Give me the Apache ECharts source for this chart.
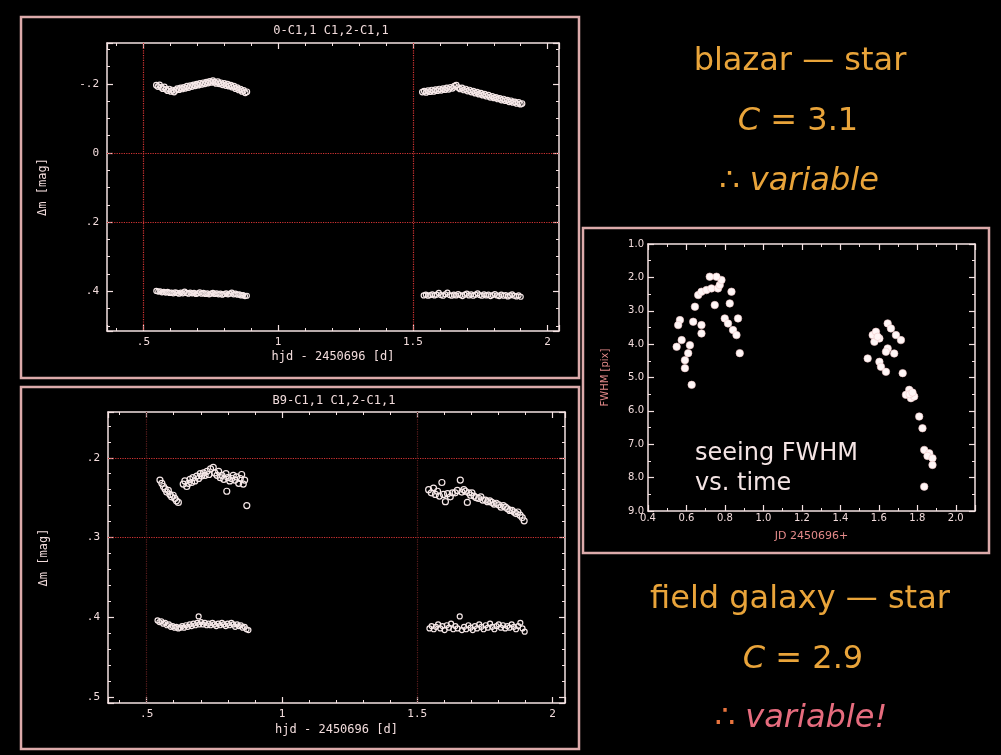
<!DOCTYPE html>
<html><head><meta charset="utf-8">
<script src="https://cdn.jsdelivr.net/npm/echarts@6/dist/echarts.min.js"></script>
<style>html,body{margin:0;padding:0;background:#000;}#c{width:1001px;height:755px;}</style>
</head><body><div id="c"></div>
<script>
// ---------------- DATA ----------------
// Panel 1: "0-C1,1  C1,2-C1,1"  (blazar - star, and star - star)
const p1BlazarA = [[0.548,-0.196],[0.554,-0.192],[0.560,-0.197],[0.566,-0.190],[0.572,-0.186],[0.578,-0.191],[0.584,-0.184],[0.590,-0.180],[0.596,-0.185],[0.602,-0.178],[0.608,-0.182],[0.614,-0.176],[0.620,-0.181],[0.626,-0.186],[0.632,-0.183],[0.638,-0.188],[0.644,-0.185],[0.650,-0.190],[0.656,-0.187],[0.662,-0.193],[0.668,-0.189],[0.674,-0.195],[0.680,-0.192],[0.686,-0.197],[0.692,-0.194],[0.698,-0.199],[0.704,-0.196],[0.710,-0.201],[0.716,-0.198],[0.722,-0.203],[0.728,-0.200],[0.734,-0.205],[0.740,-0.202],[0.746,-0.207],[0.752,-0.204],[0.758,-0.209],[0.764,-0.205],[0.770,-0.201],[0.776,-0.206],[0.782,-0.200],[0.788,-0.203],[0.794,-0.197],[0.800,-0.201],[0.806,-0.195],[0.812,-0.199],[0.818,-0.193],[0.824,-0.196],[0.830,-0.190],[0.836,-0.193],[0.842,-0.186],[0.848,-0.189],[0.854,-0.182],[0.860,-0.185],[0.866,-0.178],[0.872,-0.181],[0.878,-0.174],[0.884,-0.177]];
const p1BlazarB = [[1.535,-0.176],[1.542,-0.179],[1.549,-0.175],[1.556,-0.180],[1.563,-0.177],[1.570,-0.182],[1.577,-0.178],[1.584,-0.183],[1.591,-0.180],[1.598,-0.185],[1.605,-0.181],[1.612,-0.186],[1.619,-0.183],[1.626,-0.188],[1.633,-0.184],[1.640,-0.190],[1.647,-0.187],[1.654,-0.193],[1.661,-0.196],[1.668,-0.189],[1.675,-0.185],[1.682,-0.188],[1.689,-0.182],[1.696,-0.185],[1.703,-0.179],[1.710,-0.182],[1.717,-0.176],[1.724,-0.179],[1.731,-0.173],[1.738,-0.176],[1.745,-0.170],[1.752,-0.173],[1.759,-0.167],[1.766,-0.170],[1.773,-0.164],[1.780,-0.167],[1.787,-0.161],[1.794,-0.164],[1.801,-0.159],[1.808,-0.161],[1.815,-0.156],[1.822,-0.158],[1.829,-0.153],[1.836,-0.156],[1.843,-0.151],[1.850,-0.153],[1.857,-0.148],[1.864,-0.151],[1.871,-0.146],[1.878,-0.148],[1.885,-0.143],[1.892,-0.146],[1.899,-0.141],[1.905,-0.143]];
const p1CheckA = [[0.548,0.399],[0.555,0.401],[0.562,0.400],[0.569,0.403],[0.576,0.402],[0.583,0.404],[0.590,0.402],[0.597,0.405],[0.604,0.404],[0.611,0.406],[0.618,0.403],[0.625,0.405],[0.632,0.407],[0.639,0.404],[0.646,0.406],[0.653,0.401],[0.660,0.405],[0.667,0.407],[0.674,0.404],[0.681,0.406],[0.688,0.405],[0.695,0.408],[0.702,0.406],[0.709,0.403],[0.716,0.407],[0.723,0.405],[0.730,0.408],[0.737,0.406],[0.744,0.409],[0.751,0.407],[0.758,0.405],[0.765,0.408],[0.772,0.406],[0.779,0.409],[0.786,0.407],[0.793,0.410],[0.800,0.408],[0.807,0.406],[0.814,0.409],[0.821,0.407],[0.828,0.404],[0.835,0.409],[0.842,0.407],[0.849,0.410],[0.856,0.409],[0.863,0.412],[0.870,0.411],[0.877,0.414],[0.884,0.413]];
const p1CheckB = [[1.540,0.412],[1.548,0.410],[1.556,0.413],[1.564,0.411],[1.572,0.409],[1.580,0.412],[1.588,0.410],[1.596,0.405],[1.604,0.411],[1.612,0.413],[1.620,0.409],[1.628,0.404],[1.636,0.411],[1.644,0.413],[1.652,0.410],[1.660,0.412],[1.668,0.408],[1.676,0.411],[1.684,0.414],[1.692,0.410],[1.700,0.407],[1.708,0.412],[1.716,0.409],[1.724,0.413],[1.732,0.410],[1.740,0.406],[1.748,0.411],[1.756,0.413],[1.764,0.409],[1.772,0.412],[1.780,0.410],[1.788,0.414],[1.796,0.411],[1.804,0.408],[1.812,0.412],[1.820,0.414],[1.828,0.410],[1.836,0.413],[1.844,0.411],[1.852,0.415],[1.860,0.412],[1.868,0.409],[1.876,0.413],[1.884,0.415],[1.892,0.412],[1.900,0.416]];

// Panel 2: "B9-C1,1  C1,2-C1,1"  (field galaxy - star, and star - star)
const p2GalaxyA = [[0.549,0.228],[0.556,0.232],[0.562,0.236],[0.568,0.239],[0.574,0.243],[0.580,0.241],[0.586,0.246],[0.592,0.249],[0.598,0.247],[0.604,0.251],[0.610,0.254],[0.617,0.256],[0.635,0.233],[0.641,0.229],[0.648,0.236],[0.654,0.232],[0.660,0.227],[0.666,0.231],[0.671,0.225],[0.678,0.229],[0.685,0.223],[0.692,0.226],[0.698,0.220],[0.703,0.223],[0.710,0.219],[0.716,0.222],[0.723,0.217],[0.730,0.221],[0.736,0.214],[0.746,0.212],[0.752,0.219],[0.760,0.222],[0.766,0.217],[0.772,0.225],[0.778,0.222],[0.785,0.227],[0.793,0.220],[0.800,0.225],[0.807,0.229],[0.814,0.226],[0.820,0.222],[0.826,0.228],[0.832,0.224],[0.840,0.232],[0.846,0.226],[0.851,0.221],[0.857,0.233],[0.862,0.228],[0.796,0.242],[0.870,0.260]];
const p2GalaxyB = [[1.542,0.240],[1.552,0.244],[1.560,0.238],[1.567,0.246],[1.575,0.242],[1.582,0.248],[1.591,0.231],[1.597,0.246],[1.604,0.255],[1.612,0.245],[1.622,0.249],[1.630,0.244],[1.640,0.244],[1.648,0.241],[1.659,0.228],[1.665,0.243],[1.672,0.240],[1.678,0.242],[1.685,0.256],[1.690,0.244],[1.697,0.247],[1.702,0.244],[1.710,0.248],[1.718,0.250],[1.727,0.251],[1.735,0.249],[1.742,0.253],[1.752,0.253],[1.760,0.255],[1.768,0.254],[1.776,0.256],[1.784,0.258],[1.792,0.257],[1.801,0.259],[1.810,0.262],[1.818,0.260],[1.826,0.262],[1.834,0.264],[1.842,0.266],[1.850,0.266],[1.858,0.268],[1.865,0.270],[1.872,0.268],[1.880,0.272],[1.888,0.275],[1.895,0.279]];
const p2CheckA = [[0.540,0.404],[0.547,0.406],[0.554,0.405],[0.561,0.408],[0.568,0.407],[0.575,0.410],[0.582,0.409],[0.589,0.412],[0.596,0.411],[0.603,0.413],[0.610,0.412],[0.617,0.414],[0.624,0.413],[0.631,0.411],[0.638,0.413],[0.645,0.410],[0.652,0.412],[0.659,0.409],[0.666,0.411],[0.673,0.408],[0.680,0.410],[0.692,0.399],[0.687,0.407],[0.694,0.409],[0.701,0.406],[0.708,0.409],[0.715,0.407],[0.722,0.410],[0.729,0.408],[0.736,0.410],[0.743,0.407],[0.750,0.409],[0.757,0.411],[0.764,0.408],[0.771,0.410],[0.778,0.407],[0.785,0.409],[0.792,0.411],[0.799,0.408],[0.806,0.410],[0.813,0.407],[0.820,0.409],[0.827,0.412],[0.834,0.409],[0.841,0.411],[0.848,0.410],[0.855,0.413],[0.862,0.412],[0.869,0.415],[0.876,0.416]];
const p2CheckB = [[1.545,0.414],[1.553,0.411],[1.561,0.415],[1.569,0.412],[1.577,0.409],[1.585,0.414],[1.593,0.411],[1.601,0.416],[1.609,0.410],[1.617,0.413],[1.625,0.408],[1.633,0.415],[1.641,0.411],[1.649,0.414],[1.657,0.399],[1.665,0.416],[1.673,0.412],[1.681,0.415],[1.689,0.410],[1.697,0.413],[1.705,0.416],[1.713,0.411],[1.721,0.414],[1.729,0.409],[1.737,0.412],[1.745,0.415],[1.753,0.410],[1.761,0.413],[1.769,0.408],[1.777,0.412],[1.785,0.415],[1.793,0.411],[1.801,0.409],[1.809,0.413],[1.817,0.410],[1.825,0.414],[1.833,0.411],[1.841,0.413],[1.849,0.409],[1.857,0.412],[1.865,0.415],[1.873,0.411],[1.881,0.407],[1.889,0.414],[1.897,0.418]];

// Panel 3: seeing FWHM [pix] vs JD 2450696+
const fwhmNight1 = [[0.566,3.28],[0.557,3.43],[0.549,4.08],[0.575,3.88],[0.592,4.48],[0.592,4.72],[0.627,5.22],[0.618,4.03],[0.609,4.27],[0.635,3.33],[0.678,3.43],[0.678,3.68],[0.644,2.88],[0.661,2.53],[0.678,2.43],[0.704,2.38],[0.730,2.33],[0.764,2.33],[0.773,2.23],[0.782,2.08],[0.756,1.98],[0.721,1.98],[0.747,2.83],[0.799,3.23],[0.816,3.38],[0.842,3.58],[0.860,3.73],[0.868,3.23],[0.834,2.43],[0.825,2.78],[0.877,4.27]];
const fwhmNight2 = [[1.542,4.43],[1.568,3.73],[1.585,3.63],[1.603,3.83],[1.577,3.93],[1.594,3.78],[1.646,3.38],[1.663,3.53],[1.689,3.73],[1.715,3.88],[1.646,4.13],[1.680,4.28],[1.637,4.23],[1.603,4.53],[1.611,4.68],[1.637,4.83],[1.724,4.87],[1.758,5.37],[1.741,5.52],[1.767,5.62],[1.784,5.57],[1.760,5.50],[1.775,5.45],[1.810,6.17],[1.827,6.52],[1.836,7.17],[1.862,7.27],[1.853,7.35],[1.879,7.42],[1.879,7.62],[1.836,8.27]];

// reference (dotted) lines
const p1GridX = [0.5, 1.5];
const p1GridY = [0, 0.2];
const p2GridY = [0.2, 0.3];
const p2GridX = [0.5, 1.5];

// ---------------- STYLE ----------------
const AX = '#f4e2e2';
const LBL = '#f2dcdc';
const FRAME = '#dcaaaa';
const ORANGE = '#e9a43a';
const PINK = '#e66c7e';
const MONO = '"DejaVu Sans Mono", monospace';
const SANS = '"DejaVu Sans", sans-serif';

function pgFmt(step) {
  return function (v) {
    const k = v / step;
    if (Math.abs(k - Math.round(k)) > 1e-6) return '';
    let s = String(+v.toFixed(3));
    return s.replace(/^0\./, '.').replace(/^-0\./, '-.');
  };
}
function fixFmt(step) {
  return function (v) {
    const k = v / step;
    if (Math.abs(k - Math.round(k)) > 1e-6) return '';
    return v.toFixed(1);
  };
}
function axis(o) {
  const a = {
    type: 'value', gridIndex: o.grid, position: o.pos, min: o.min, max: o.max,
    minInterval: o.step, maxInterval: o.step, inverse: !!o.inverse, scale: true,
    axisLine: { show: true, onZero: false, lineStyle: { color: AX, width: 1.5 } },
    axisTick: { show: true, inside: true, length: 6, lineStyle: { color: AX, width: 1.2 } },
    minorTick: { show: true, splitNumber: o.minor, length: 3, lineStyle: { color: AX, width: 1 } },
    splitLine: { show: false }, minorSplitLine: { show: false },
    axisLabel: o.label ? {
      show: true, margin: o.margin, color: LBL, fontFamily: o.font || MONO, fontSize: o.fs || 11,
      formatter: o.fmt, showMinLabel: true, showMaxLabel: true, hideOverlap: false
    } : { show: false }
  };
  if (o.name) {
    a.name = o.name; a.nameLocation = 'middle'; a.nameGap = o.nameGap;
    a.nameTextStyle = { color: o.nameColor || LBL, fontFamily: o.font || MONO, fontSize: o.nfs || 12 };
  }
  return a;
}
function scatter(data, xi, yi, size, filled) {
  return {
    type: 'scatter', xAxisIndex: xi, yAxisIndex: yi, data: data, symbol: 'circle', symbolSize: size,
    itemStyle: filled ? { color: '#fff6f6', borderColor: '#f0c8c8', borderWidth: 0.6, opacity: 1 }
                      : { color: 'rgba(0,0,0,0)', borderColor: '#f6e8e8', borderWidth: 1.2, opacity: 1 },
    silent: true
  };
}
function gridLines(xs, ys, color) {
  return {
    silent: true, symbol: ['none', 'none'], label: { show: false }, animation: false,
    lineStyle: { color: color, type: 'dotted', width: 1.2 },
    data: xs.map(v => ({ xAxis: v })).concat(ys.map(v => ({ yAxis: v })))
  };
}

const chart = echarts.init(document.getElementById('c'), null, { renderer: 'canvas' });

const s1 = scatter(p1BlazarA, 0, 0, 5.5, false);
s1.markLine = gridLines(p1GridX, p1GridY, '#d23434');
const s5 = scatter(p2GalaxyA, 2, 2, 6, false);
s5.markLine = gridLines([], p2GridY, '#d23434');
const s6 = scatter(p2GalaxyB, 2, 2, 6, false);
s6.markLine = gridLines(p2GridX, [], '#5a1c1c');

const option = {
  backgroundColor: '#000',
  animation: false,
  grid: [
    { left: 107, top: 43, width: 452, height: 288, containLabel: false, outerBoundsMode: 'none' },
    { left: 108, top: 412, width: 457, height: 291, containLabel: false, outerBoundsMode: 'none' },
    { left: 648, top: 244, width: 327, height: 267, containLabel: false, outerBoundsMode: 'none' }
  ],
  xAxis: [
    axis({ grid: 0, pos: 'bottom', min: 0.365, max: 2.042, step: 0.5, minor: 5, label: true, margin: 6, fmt: pgFmt(0.5), name: 'hjd - 2450696 [d]', nameGap: 20 }),
    axis({ grid: 0, pos: 'top', min: 0.365, max: 2.042, step: 0.5, minor: 5 }),
    axis({ grid: 1, pos: 'bottom', min: 0.357, max: 2.046, step: 0.5, minor: 5, label: true, margin: 6, fmt: pgFmt(0.5), name: 'hjd - 2450696 [d]', nameGap: 21 }),
    axis({ grid: 1, pos: 'top', min: 0.357, max: 2.046, step: 0.5, minor: 5 }),
    axis({ grid: 2, pos: 'bottom', min: 0.4, max: 2.1, step: 0.2, minor: 2, label: true, margin: 2, fmt: fixFmt(0.2), font: SANS, fs: 10, name: 'JD 2450696+', nameGap: 20, nameColor: '#e48a8a', nfs: 11 }),
    axis({ grid: 2, pos: 'top', min: 0.4, max: 2.1, step: 0.2, minor: 2 })
  ],
  yAxis: [
    axis({ grid: 0, pos: 'left', min: -0.318, max: 0.515, step: 0.2, minor: 4, inverse: true, label: true, margin: 8, fmt: pgFmt(0.2), name: 'Δm [mag]', nameGap: 58 }),
    axis({ grid: 0, pos: 'right', min: -0.318, max: 0.515, step: 0.2, minor: 4, inverse: true }),
    axis({ grid: 1, pos: 'left', min: 0.1426, max: 0.5075, step: 0.1, minor: 5, inverse: true, label: true, margin: 8, fmt: pgFmt(0.1), name: 'Δm [mag]', nameGap: 58 }),
    axis({ grid: 1, pos: 'right', min: 0.1426, max: 0.5075, step: 0.1, minor: 5, inverse: true }),
    axis({ grid: 2, pos: 'left', min: 1, max: 9, step: 1, minor: 2, inverse: true, label: true, margin: 4, fmt: fixFmt(1), font: SANS, fs: 10, name: 'FWHM [pix]', nameGap: 38, nameColor: '#e48a8a', nfs: 10 }),
    axis({ grid: 2, pos: 'right', min: 1, max: 9, step: 1, minor: 2, inverse: true })
  ],
  series: [
    s1,
    scatter(p1BlazarB, 0, 0, 5.5, false),
    scatter(p1CheckA, 0, 0, 5, false),
    scatter(p1CheckB, 0, 0, 5, false),
    s5, s6,
    scatter(p2CheckA, 2, 2, 5, false),
    scatter(p2CheckB, 2, 2, 5, false),
    scatter(fwhmNight1, 4, 4, 7.5, true),
    scatter(fwhmNight2, 4, 4, 7.5, true)
  ],
  graphic: [
    { type: 'rect', silent: true, z: 50, shape: { x: 21, y: 17, width: 558, height: 361 }, style: { fill: 'none', stroke: FRAME, lineWidth: 2.5 } },
    { type: 'rect', silent: true, z: 50, shape: { x: 21, y: 387, width: 558, height: 362 }, style: { fill: 'none', stroke: FRAME, lineWidth: 2.5 } },
    { type: 'rect', silent: true, z: 50, shape: { x: 583, y: 228, width: 406, height: 325 }, style: { fill: 'none', stroke: FRAME, lineWidth: 2.5 } },
    { type: 'text', silent: true, z: 60, x: 331, y: 31, style: { text: '0-C1,1 C1,2-C1,1', fill: LBL, font: '12px ' + MONO, textAlign: 'center', textVerticalAlign: 'middle', verticalAlign: 'middle' } },
    { type: 'text', silent: true, z: 60, x: 334, y: 401, style: { text: 'B9-C1,1 C1,2-C1,1', fill: LBL, font: '12px ' + MONO, textAlign: 'center', textVerticalAlign: 'middle', verticalAlign: 'middle' } },
    { type: 'text', silent: true, z: 60, x: 695, y: 454, style: { text: 'seeing FWHM', fill: '#f4e4e4', font: '24px ' + SANS, textAlign: 'left', textVerticalAlign: 'middle', verticalAlign: 'middle' } },
    { type: 'text', silent: true, z: 60, x: 695, y: 484, style: { text: 'vs. time', fill: '#f4e4e4', font: '24px ' + SANS, textAlign: 'left', textVerticalAlign: 'middle', verticalAlign: 'middle' } },
    { type: 'text', silent: true, z: 60, x: 800, y: 62, style: { text: 'blazar — star', fill: ORANGE, font: '32px ' + SANS, textAlign: 'center', textVerticalAlign: 'middle', verticalAlign: 'middle' } },
    { type: 'text', silent: true, z: 60, x: 798, y: 122, style: { text: '{i|C} = 3.1', fill: ORANGE, font: '32px ' + SANS, textAlign: 'center', verticalAlign: 'middle', textVerticalAlign: 'middle',
      rich: { i: { fontStyle: 'italic', fontSize: 32, fontFamily: SANS, fill: ORANGE, color: ORANGE } } } },
    { type: 'text', silent: true, z: 60, x: 799, y: 182, style: { text: '∴ {i|variable}', fill: ORANGE, font: '32px ' + SANS, textAlign: 'center', verticalAlign: 'middle', textVerticalAlign: 'middle',
      rich: { i: { fontStyle: 'italic', fontSize: 32, fontFamily: SANS, fill: ORANGE, color: ORANGE } } } },
    { type: 'text', silent: true, z: 60, x: 800, y: 600, style: { text: 'field galaxy — star', fill: ORANGE, font: '32px ' + SANS, textAlign: 'center', textVerticalAlign: 'middle', verticalAlign: 'middle' } },
    { type: 'text', silent: true, z: 60, x: 803, y: 660, style: { text: '{i|C} = 2.9', fill: ORANGE, font: '32px ' + SANS, textAlign: 'center', verticalAlign: 'middle', textVerticalAlign: 'middle',
      rich: { i: { fontStyle: 'italic', fontSize: 32, fontFamily: SANS, fill: ORANGE, color: ORANGE } } } },
    { type: 'text', silent: true, z: 60, x: 801, y: 719, style: { text: '{d|∴} {i|variable!}', fill: PINK, font: '32px ' + SANS, textAlign: 'center', verticalAlign: 'middle', textVerticalAlign: 'middle',
      rich: { d: { fontSize: 32, fontFamily: SANS, fill: '#e8743e', color: '#e8743e' }, i: { fontStyle: 'italic', fontSize: 32, fontFamily: SANS, fill: PINK, color: PINK } } } }
  ]
};
chart.setOption(option);
</script></body></html>
